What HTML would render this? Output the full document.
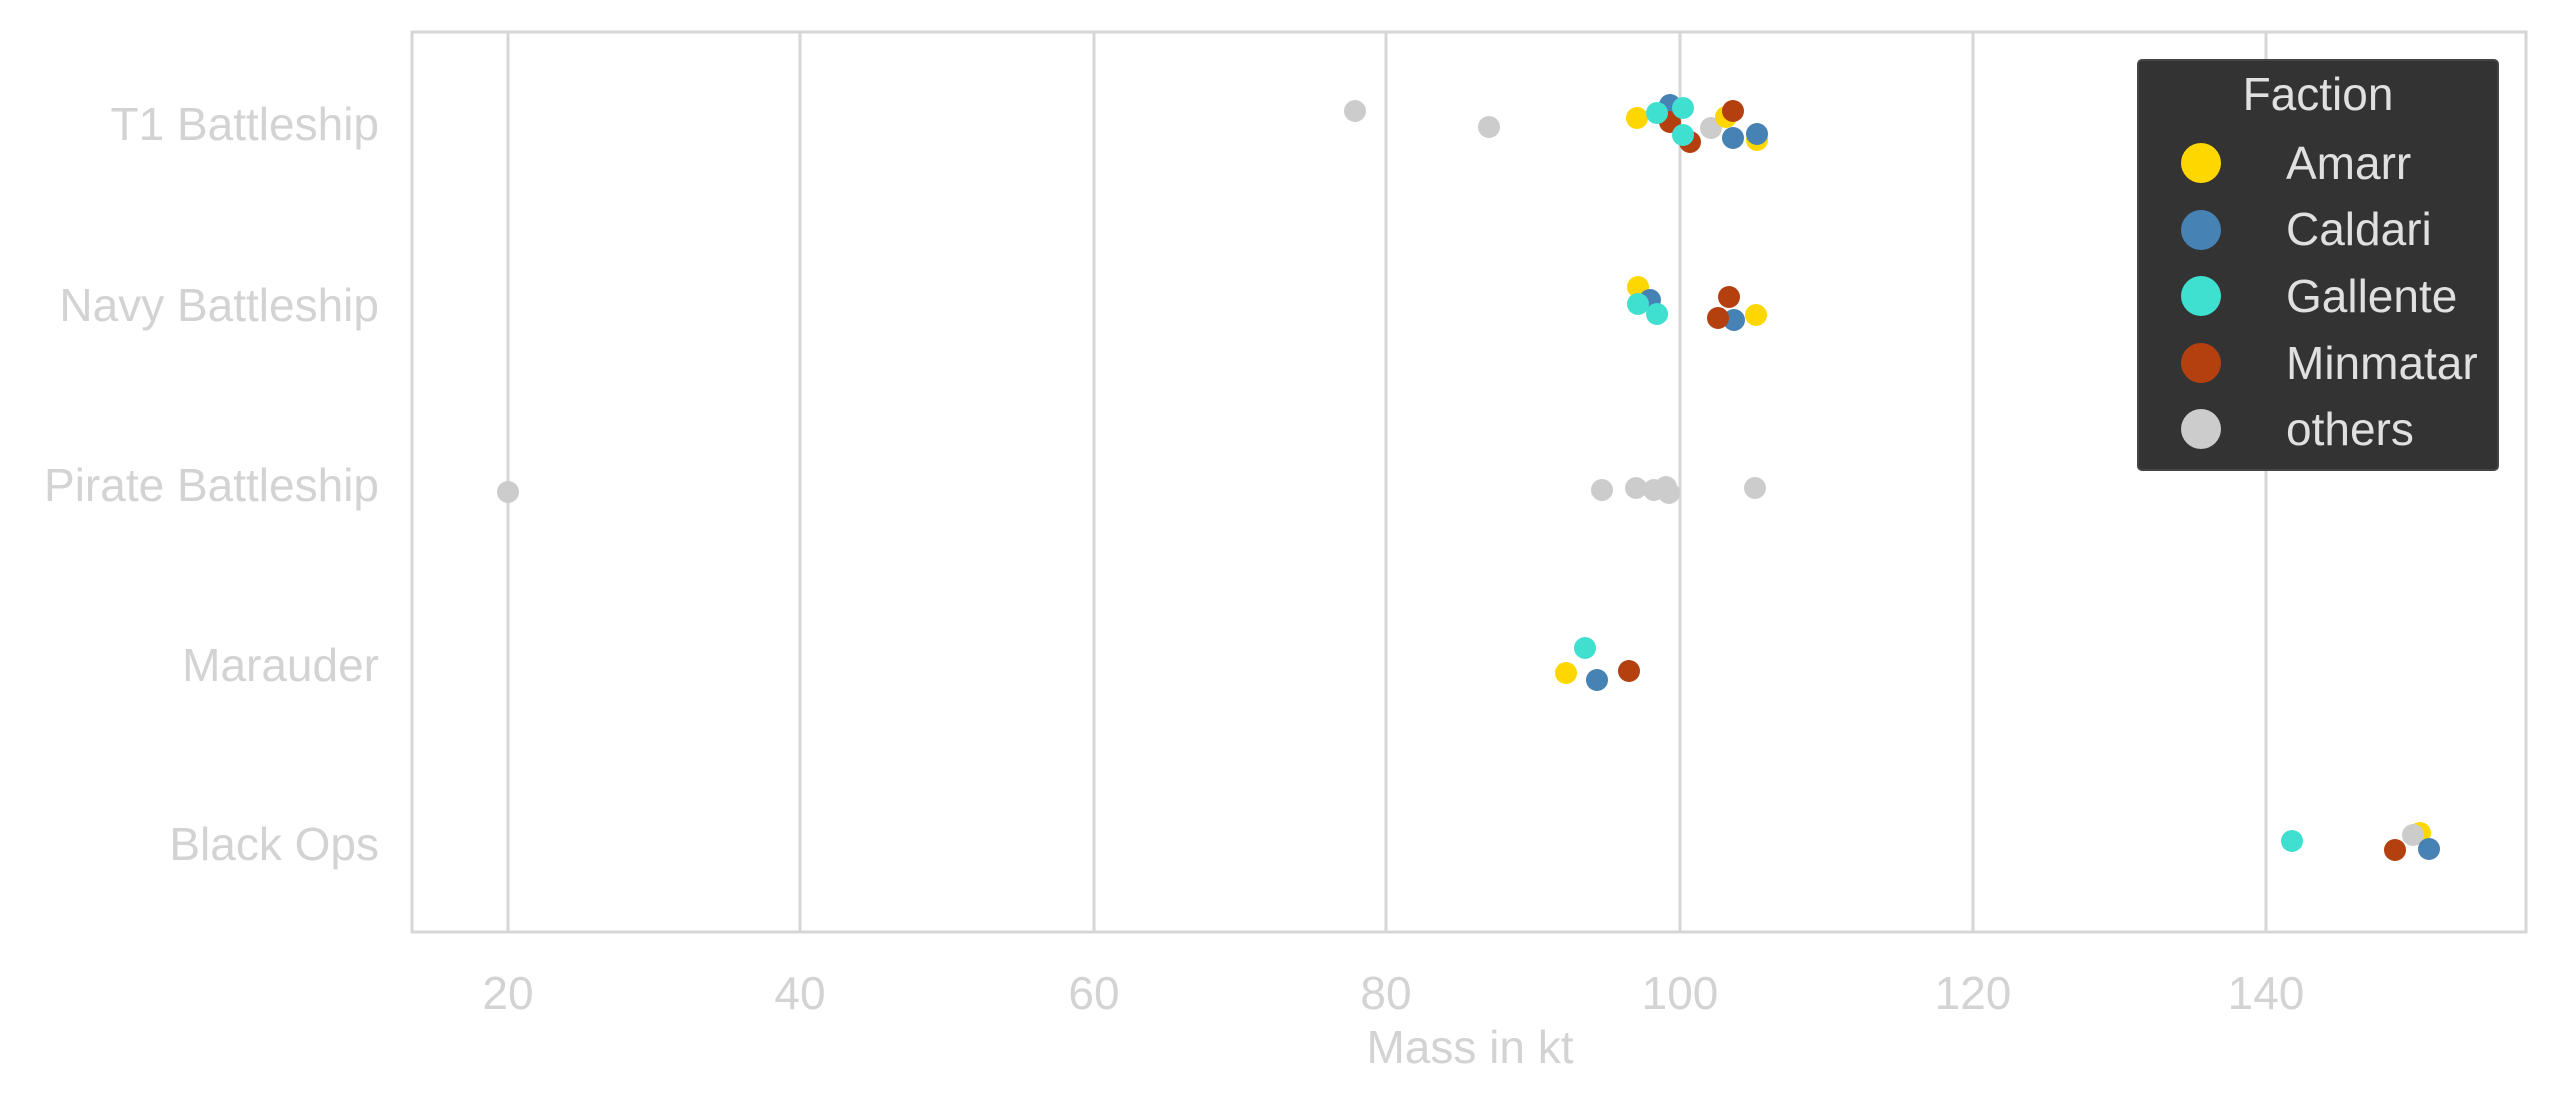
<!DOCTYPE html>
<html><head><meta charset="utf-8"><style>
html,body{margin:0;padding:0;background:#fff;width:2560px;height:1106px;overflow:hidden}
text{font-family:"Liberation Sans",sans-serif}
</style></head><body>
<svg width="2560" height="1106" viewBox="0 0 2560 1106" xmlns="http://www.w3.org/2000/svg">
<rect width="2560" height="1106" fill="#fff"/>
<g stroke="#d6d6d6" stroke-width="3">
<line x1="508" y1="31" x2="508" y2="932"/>
<line x1="800" y1="31" x2="800" y2="932"/>
<line x1="1094" y1="31" x2="1094" y2="932"/>
<line x1="1386" y1="31" x2="1386" y2="932"/>
<line x1="1680" y1="31" x2="1680" y2="932"/>
<line x1="1973" y1="31" x2="1973" y2="932"/>
<line x1="2266" y1="31" x2="2266" y2="932"/>
</g>
<rect x="412" y="32" width="2114" height="900" fill="none" stroke="#d6d6d6" stroke-width="3"/>
<g fill="#d3d3d3" font-size="46" text-anchor="end">
<text x="379" y="140">T1 Battleship</text>
<text x="379" y="321">Navy Battleship</text>
<text x="379" y="501">Pirate Battleship</text>
<text x="379" y="681">Marauder</text>
<text x="379" y="860">Black Ops</text>
</g>
<g fill="#d3d3d3" font-size="46" text-anchor="middle">
<text x="508" y="1009">20</text>
<text x="800" y="1009">40</text>
<text x="1094" y="1009">60</text>
<text x="1386" y="1009">80</text>
<text x="1680" y="1009">100</text>
<text x="1973" y="1009">120</text>
<text x="2266" y="1009">140</text>
<text x="1470" y="1063">Mass in kt</text>
</g>
<g>
<circle cx="1355" cy="111" r="11" fill="#cccccc"/>
<circle cx="1489" cy="127" r="11" fill="#cccccc"/>
<circle cx="1637" cy="118" r="11" fill="#FFD700"/>
<circle cx="1670" cy="105" r="11" fill="#4682B4"/>
<circle cx="1670" cy="122" r="11" fill="#B5400F"/>
<circle cx="1657" cy="113" r="11" fill="#40E0D0"/>
<circle cx="1683" cy="108" r="11" fill="#40E0D0"/>
<circle cx="1690" cy="142" r="11" fill="#B5400F"/>
<circle cx="1683" cy="135" r="11" fill="#40E0D0"/>
<circle cx="1711" cy="128" r="11" fill="#cccccc"/>
<circle cx="1726" cy="117" r="11" fill="#FFD700"/>
<circle cx="1733" cy="111" r="11" fill="#B5400F"/>
<circle cx="1733" cy="138" r="11" fill="#4682B4"/>
<circle cx="1757" cy="140" r="11" fill="#FFD700"/>
<circle cx="1757" cy="134" r="11" fill="#4682B4"/>
<circle cx="1638" cy="287" r="11" fill="#FFD700"/>
<circle cx="1650" cy="300" r="11" fill="#4682B4"/>
<circle cx="1638" cy="304" r="11" fill="#40E0D0"/>
<circle cx="1657" cy="314" r="11" fill="#40E0D0"/>
<circle cx="1729" cy="297" r="11" fill="#B5400F"/>
<circle cx="1734" cy="320" r="11" fill="#4682B4"/>
<circle cx="1718" cy="318" r="11" fill="#B5400F"/>
<circle cx="1756" cy="315" r="11" fill="#FFD700"/>
<circle cx="508" cy="492" r="11" fill="#cccccc"/>
<circle cx="1602" cy="490" r="11" fill="#cccccc"/>
<circle cx="1636" cy="488" r="11" fill="#cccccc"/>
<circle cx="1654" cy="490" r="11" fill="#cccccc"/>
<circle cx="1666" cy="487" r="11" fill="#cccccc"/>
<circle cx="1669" cy="493" r="11" fill="#cccccc"/>
<circle cx="1755" cy="488" r="11" fill="#cccccc"/>
<circle cx="1585" cy="648" r="11" fill="#40E0D0"/>
<circle cx="1566" cy="673" r="11" fill="#FFD700"/>
<circle cx="1597" cy="680" r="11" fill="#4682B4"/>
<circle cx="1629" cy="671" r="11" fill="#B5400F"/>
<circle cx="2292" cy="841" r="11" fill="#40E0D0"/>
<circle cx="2420" cy="833" r="11" fill="#FFD700"/>
<circle cx="2413" cy="835" r="11" fill="#cccccc"/>
<circle cx="2395" cy="850" r="11" fill="#B5400F"/>
<circle cx="2429" cy="849" r="11" fill="#4682B4"/>
</g>
<rect x="2138" y="60" width="360" height="410" rx="4" fill="#333333" stroke="#444" stroke-width="2"/>
<g font-size="46" fill="#e0e0e0">
<text x="2318" y="110" text-anchor="middle">Faction</text>
<text x="2286" y="179">Amarr</text>
<text x="2286" y="245">Caldari</text>
<text x="2286" y="312">Gallente</text>
<text x="2286" y="379">Minmatar</text>
<text x="2286" y="445">others</text>
</g>
<circle cx="2201" cy="163" r="20" fill="#FFD700"/>
<circle cx="2201" cy="230" r="20" fill="#4682B4"/>
<circle cx="2201" cy="296" r="20" fill="#40E0D0"/>
<circle cx="2201" cy="363" r="20" fill="#B5400F"/>
<circle cx="2201" cy="429" r="20" fill="#cccccc"/>
</svg>
</body></html>
